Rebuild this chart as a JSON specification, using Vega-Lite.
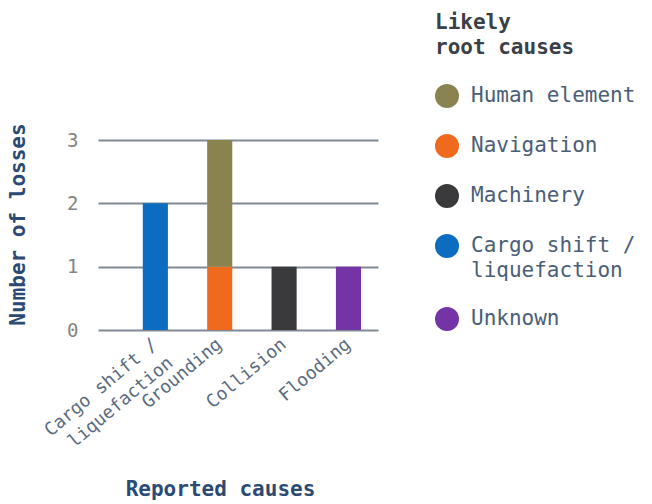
{
  "$schema": "https://vega.github.io/schema/vega-lite/v6.json",
  "autosize": "none",
  "width": 280,
  "height": 190,
  "padding": {"left": 98, "top": 140, "right": 274, "bottom": 174},
  "background": "white",
  "config": {
    "font": "DejaVu Sans Mono",
    "view": {"stroke": null}
  },
  "data": {
    "values": [
      {"cause": "Cargo shift / liquefaction", "root": "Cargo shift / liquefaction", "losses": 2},
      {"cause": "Grounding", "root": "Navigation", "losses": 1},
      {"cause": "Grounding", "root": "Human element", "losses": 2},
      {"cause": "Collision", "root": "Machinery", "losses": 1},
      {"cause": "Flooding", "root": "Unknown", "losses": 1}
    ]
  },
  "mark": {"type": "bar"},
  "encoding": {
    "x": {
      "field": "cause",
      "type": "nominal",
      "sort": ["Cargo shift / liquefaction", "Grounding", "Collision", "Flooding"],
      "scale": {"paddingInner": 0.61, "paddingOuter": 0.48, "align": 0.725},
      "axis": {
        "title": "Reported causes",
        "titleFontSize": 21,
        "titleFontWeight": "bold",
        "titleColor": "#2b4a74",
        "titleX": 122,
        "titleY": 165,
        "titleBaseline": "alphabetic",
        "titleAnchor": "middle",
        "titleAlign": "center",
        "domain": false,
        "ticks": false,
        "grid": false,
        "labelAngle": -40,
        "labelAlign": "right",
        "labelBaseline": "middle",
        "labelPadding": 12,
        "labelFontSize": 18,
        "labelLineHeight": 24,
        "labelColor": "#5a6b80",
        "labelExpr": "datum.value == 'Cargo shift / liquefaction' ? ['Cargo shift /', 'liquefaction'] : datum.label",
        "labelLimit": 300
      }
    },
    "y": {
      "field": "losses",
      "type": "quantitative",
      "stack": "zero",
      "scale": {"domain": [0, 3], "nice": false},
      "axis": {
        "title": "Number of losses",
        "titleFontSize": 21,
        "titleFontWeight": "bold",
        "titleColor": "#2b4a74",
        "titleX": -70,
        "titleY": 84,
        "titleAngle": 270,
        "titleBaseline": "bottom",
        "titleAlign": "center",
        "values": [0, 1, 2, 3],
        "format": "d",
        "domain": false,
        "ticks": false,
        "labelFontSize": 19,
        "labelColor": "#858585",
        "labelPadding": 20,
        "gridColor": "#7f8a95",
        "gridWidth": 2,
        "gridOpacity": 1
      }
    },
    "order": {"field": "root", "sort": "descending"},
    "color": {
      "field": "root",
      "type": "nominal",
      "scale": {
        "domain": ["Human element", "Navigation", "Machinery", "Cargo shift / liquefaction", "Unknown"],
        "range": ["#8a8350", "#ef6a1c", "#3a3a3c", "#0b6cc0", "#7434a6"]
      },
      "legend": {
        "orient": "none",
        "legendX": 337,
        "legendY": -128,
        "title": ["Likely", "root causes"],
        "titleFontSize": 21,
        "titleFontWeight": "bold",
        "titleColor": "#3a4048",
        "titleLineHeight": 25,
        "titlePadding": 26,
        "symbolType": "circle",
        "symbolSize": 576,
        "symbolStrokeWidth": 0,
        "symbolOpacity": 1,
        "labelFontSize": 21,
        "labelColor": "#4a5e78",
        "labelOffset": 12,
        "labelLimit": 300,
        "rowPadding": 26,
        "labelExpr": "datum.value == 'Cargo shift / liquefaction' ? ['Cargo shift /', 'liquefaction'] : datum.label",
        "encode": {
          "labels": {"update": {"lineHeight": {"value": 25}}}
        }
      }
    }
  }
}
